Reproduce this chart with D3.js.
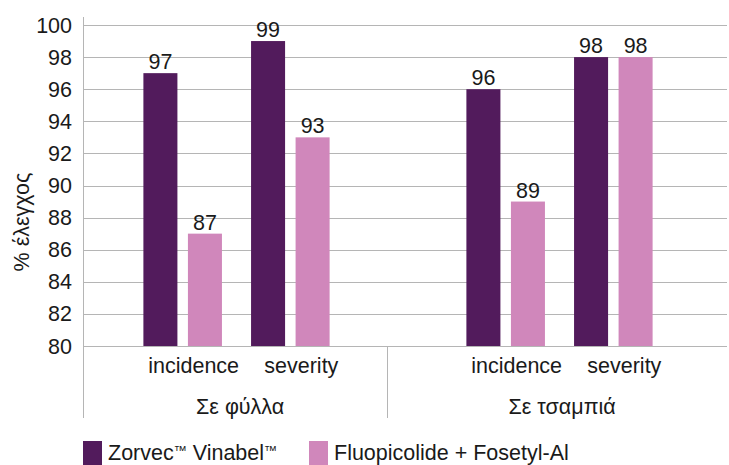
<!DOCTYPE html>
<html>

<head>
    <meta charset="UTF-8">
    <title>% έλεγχος</title>
    <style>
        body {
            margin: 0;
            background-color: #fff;
        }
        svg text {
            font-family: "Liberation Sans", Arial, Helvetica, sans-serif;
            font-size: 21.5px;
            fill: #1a1a1a;
        }
    </style>
</head>

<body>
    <svg></svg>

    <script src="https://cdnjs.cloudflare.com/ajax/libs/d3/7.8.5/d3.min.js"></script>

    <script>

        let width = 729, height = 465;

        // data
        let groups = ["Σε φύλλα", "Σε τσαμπιά"];
        let subCats = ["incidence", "severity"];
        let series = ["Zorvec™ Vinabel™", "Fluopicolide + Fosetyl-Al"];
        let zorvec = [97, 99, 96, 98];
        let fluopicolide = [87, 93, 89, 98];
        let yTicks = [80, 82, 84, 86, 88, 90, 92, 94, 96, 98, 100];
        let colors = ["#521b5c", "#d087bb"];

        let svg = d3.select("svg")
            .attr("width", width)
            .attr("height", height);

        let plotLeft = 83, plotRight = 727, plotTop = 25, plotBottom = 346;

        // slots: two per group with an empty one between groups
        let slots = ["0-incidence", "0-severity", "gap", "1-incidence", "1-severity"];
        let rows = [];
        groups.forEach((g, gi) => {
            subCats.forEach((s, si) => {
                let i = gi * 2 + si;
                rows.push({ slot: gi + "-" + s, sub: s, values: [zorvec[i], fluopicolide[i]] });
            });
        });

        let x = d3.scaleBand()
            .domain(slots)
            .range([75, 721])
            .paddingInner(0)
            .paddingOuter(0.5);

        let xs = d3.scaleBand()
            .domain(series)
            .range([0, x.bandwidth()])
            .paddingInner(0.236)
            .paddingOuter(0.327);

        let y = d3.scaleLinear()
            .domain([80, 100])
            .range([plotBottom, plotTop]);

        // gridlines
        svg.append("g")
            .selectAll("line")
            .data(yTicks)
            .enter()
            .append("line")
            .attr("x1", plotLeft)
            .attr("x2", plotRight)
            .attr("y1", d => Math.round(y(d)) + 0.5)
            .attr("y2", d => Math.round(y(d)) + 0.5)
            .attr("stroke", "#b5b5b5")
            .attr("stroke-width", 1);

        // y tick labels
        svg.append("g")
            .selectAll("text")
            .data(yTicks)
            .enter()
            .append("text")
            .attr("x", 72)
            .attr("y", d => y(d))
            .attr("dy", "0.35em")
            .attr("text-anchor", "end")
            .text(d => d);

        // y axis title
        svg.append("text")
            .attr("transform", "translate(29,222) rotate(-90)")
            .attr("text-anchor", "middle")
            .text("% έλεγχος");

        // bars
        let cat = svg.append("g")
            .selectAll("g")
            .data(rows)
            .enter()
            .append("g")
            .attr("transform", d => "translate(" + x(d.slot) + ",0)");

        cat.selectAll("rect")
            .data(d => d.values.map((v, i) => ({ key: series[i], value: v, color: colors[i] })))
            .enter()
            .append("rect")
            .attr("x", d => xs(d.key))
            .attr("width", xs.bandwidth())
            .attr("y", d => y(d.value))
            .attr("height", d => y(80) - y(d.value))
            .attr("fill", d => d.color);

        cat.selectAll("text.val")
            .data(d => d.values.map((v, i) => ({ key: series[i], value: v })))
            .enter()
            .append("text")
            .attr("class", "val")
            .attr("x", d => xs(d.key) + xs.bandwidth() / 2)
            .attr("y", d => y(d.value) - 4)
            .attr("text-anchor", "middle")
            .text(d => d.value);

        // sub category labels (sit a little right of the bar pairs)
        cat.append("text")
            .attr("x", x.bandwidth() / 2)
            .attr("dx", 11)
            .attr("y", 373)
            .attr("text-anchor", "middle")
            .text(d => d.sub);

        // axis lines
        let sep = x("gap") + x.step() * 0.4;
        let axis = svg.append("g").attr("stroke", "#b5b5b5").attr("stroke-width", 1);
        axis.append("line")
            .attr("x1", plotLeft + 0.5).attr("x2", plotLeft + 0.5)
            .attr("y1", 17).attr("y2", 418);
        axis.append("line")
            .attr("x1", Math.round(sep) + 0.5).attr("x2", Math.round(sep) + 0.5)
            .attr("y1", plotBottom).attr("y2", 418);

        // group labels
        let groupMid = [(plotLeft + sep) / 2, (sep + plotRight) / 2];
        svg.append("g")
            .selectAll("text")
            .data(groups)
            .enter()
            .append("text")
            .attr("x", (d, i) => groupMid[i])
            .attr("dx", 5)
            .attr("y", 414)
            .attr("text-anchor", "middle")
            .text(d => d);

        // legend
        let legendX = [83, 309];
        let legend = svg.append("g")
            .selectAll("g")
            .data(series)
            .enter()
            .append("g")
            .attr("transform", (d, i) => "translate(" + legendX[i] + ",441)");

        legend.append("rect")
            .attr("width", 19)
            .attr("height", 24)
            .attr("fill", (d, i) => colors[i]);

        legend.append("text")
            .attr("x", 25)
            .attr("y", 19)
            .each(function (d) {
                let t = d3.select(this);
                let parts = d.split("™");
                let shift = 0;
                parts.forEach((part, i) => {
                    if (part !== "") {
                        t.append("tspan").attr("dy", -shift).text(part);
                        shift = 0;
                    }
                    if (i < parts.length - 1) {
                        t.append("tspan")
                            .style("font-size", "13px")
                            .attr("dy", -5 - shift)
                            .text("™");
                        shift = -5;
                    }
                });
            });

    </script>

</body>

</html>
